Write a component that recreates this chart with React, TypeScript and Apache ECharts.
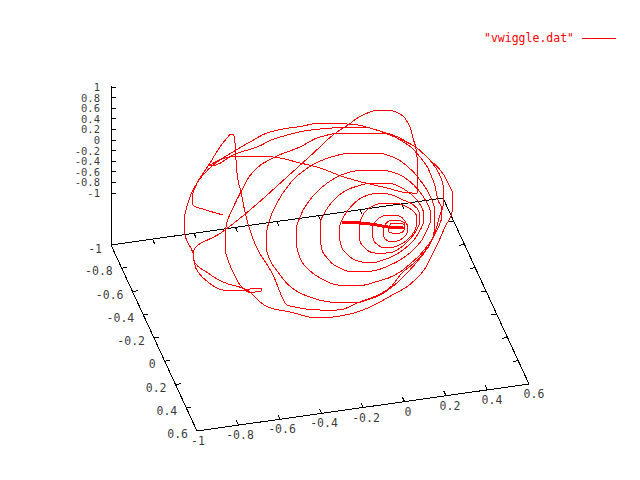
import React, { useEffect, useRef } from "react";
import * as echarts from "echarts";

// Curve, on the projected plot plane (640 x 480 units).
const centreStroke = [[342,221],[360,222],[377,224],[388,226],[403,227],[405,228],[403,229],[388,228],[377,226],[360,224],[342,223],[342,222],[360,223],[377,225],[388,227],[400,228]];
const innerRings = [[405,227],[403,224],[393,223],[389,226],[388,230],[392,233],[400,233],[404,230],[405,225],[393,220],[385,225],[383,233],[385,239],[392,242],[400,240],[406,235],[408,229],[405,221],[399,216],[392,215],[383,216],[376,221],[372,229],[373,238],[378,245],[386,248],[394,247],[403,243],[411,236],[416,227],[417,218],[413,211],[403,205],[394,203],[384,203],[375,205],[367,210],[361,219],[359,230],[360,241],[366,249],[375,253],[386,253],[397,250],[408,241],[416,231],[420,220],[419,212],[412,204],[403,200],[392,195],[380,193],[368,195],[358,200],[349,209],[342,220],[339,232],[341,245],[348,255],[358,261],[370,263],[383,260],[397,254],[410,244],[419,232],[424,218],[421,206],[413,196],[402,188],[387,183],[372,183],[358,186],[345,191],[334,200],[325,212],[320,227],[321,245],[328,259],[340,268],[355,272],[372,271],[388,266],[403,258],[417,246],[427,230],[431,216],[428,205],[420,192],[408,180],[395,173],[380,170],[365,170],[350,172],[335,178],[320,189],[309,201],[300,217],[296,235],[299,255],[308,269],[322,279],[338,285],[356,286],[375,282],[395,275],[411,263],[424,250],[434,232],[435,215],[431,198],[420,180],[407,166],[390,156],[372,153],[352,153],[335,156],[318,162],[302,172],[288,186],[277,203],[269,222],[266,240],[269,258],[278,272],[292,288],[310,297],[330,302],[350,303],[370,299],[388,290],[405,275],[421,257],[432,240],[440,215],[444,200]];
const secondArc = [[443,185],[437,170],[427,157],[407,142],[383,132],[357,127],[320,129],[277,138],[257,147],[233,155],[216,165],[209,166],[209,166]];
const crossStroke = [[230,157],[250,156],[273,157],[300,163],[320,168],[347,178],[387,188],[412,193],[417,193],[417,193]];
const bump = [[417,157],[413,138],[408,123],[398,113],[383,110],[363,115],[348,125],[333,135],[320,147],[287,177],[250,210],[225,230],[193,255],[193,255]];
const outerBottom = [[195,263],[208,273],[223,282],[247,290],[258,300],[268,307],[290,312],[320,318],[340,316],[363,310],[387,298],[417,278],[433,253],[445,227],[452,212],[453,197],[448,183],[441,171],[430,160],[417,148],[397,138],[370,128],[347,124],[320,123],[303,126],[270,132],[250,142],[233,152],[217,162],[203,175],[193,190],[188,203],[184,223],[185,235],[193,253],[194,260],[198,272],[212,285],[223,290],[243,291],[250,289],[258,288],[262,289],[261,291],[255,292],[248,292],[245,290]];
const returnArc = [[238,282],[228,260],[225,243],[226,227],[233,208],[242,190],[253,172],[273,158],[300,147],[320,137],[350,133],[380,133],[400,140],[420,157],[433,180],[438,200],[442,210],[437,230],[420,257],[402,273],[387,290],[357,303],[337,310],[320,310],[290,306],[285,303],[272,273],[258,250],[250,230],[245,212],[241,192],[238,180],[236,160],[235,143],[233,134],[232,134],[227,138],[218,150],[210,163],[200,178],[197,183],[192,200],[193,205],[203,209],[223,215]];
const curve = [...centreStroke, ...innerRings, ...secondArc, ...crossStroke, ...bump, ...outerBottom, ...returnArc];

const xTickValues = [-1, -0.8, -0.6, -0.4, -0.2, 0, 0.2, 0.4, 0.6];
const yTickValues = [-1, -0.8, -0.6, -0.4, -0.2, 0, 0.2, 0.4, 0.6];
const zTickValues = [1, 0.8, 0.6, 0.4, 0.2, 0, -0.2, -0.4, -0.6, -0.8, -1];
const seriesName = '"vwiggle.dat"';

// Projection of the ground plane and the vertical axis on the page.
const project = (x: number, y: number) => {
  const u = (x + 1) / 1.6;
  const v = (y + 1) / 1.6;
  return [111 + 332 * u + 86 * v, 245 - 47 * u + 186 * v];
};
const zPos = (z: number) => 193 - ((z + 1) / 2) * 106;

const gap = ["-", "-"];
const frame = [project(-1, -1), project(0.6, -1), project(0.6, 0.6), project(-1, 0.6), project(-1, -1), [111, 86]];
const ticks: any[] = [];
xTickValues.slice(1, -1).forEach((x) => {
  ticks.push(project(x, 0.6), project(x, 0.56), gap, project(x, -1), project(x, -0.96), gap);
});
yTickValues.slice(1, -1).forEach((y) => {
  ticks.push(project(-1, y), project(-0.975, y), gap, project(0.6, y), project(0.575, y), gap);
});
zTickValues.forEach((z) => {
  ticks.push([111, zPos(z)], [116, zPos(z)], gap);
});

const labelFont = { fontFamily: "DejaVu Sans Mono", fontSize: 11.5 };

const labelSeries = (data: any[], align: string, extra: object = {}) => ({
  type: "scatter",
  symbolSize: 0,
  silent: true,
  data,
  label: {
    show: true,
    position: "inside",
    align,
    verticalAlign: "middle",
    ...labelFont,
    color: "#000",
    formatter: (p: any) => p.data.text,
    ...extra,
  },
});

const xLabels = xTickValues.map((x) => {
  const [px, py] = project(x, 0.6);
  return { value: [px + 1 + (4 * (x + 1)) / 1.6, py + 10], text: String(x) };
});
const yLabels = yTickValues.slice(1).map((y) => {
  const [px, py] = project(-1, y);
  return { value: [px - 9, py + 3], text: String(y) };
});
const zLabels = zTickValues.map((z) => ({ value: [100, zPos(z)], text: String(z) }));
const cornerLabel = [{ value: [102, 249], text: String(yTickValues[0]) }];

export default function App() {
  const ref = useRef<HTMLDivElement>(null);
  useEffect(() => {
    document.body.style.margin = "0";
    const chart = echarts.init(ref.current!, undefined, { renderer: "svg" });
    chart.setOption({
      animation: false,
      backgroundColor: "#fff",
      grid: { left: 0, top: 0, width: 640, height: 480 },
      xAxis: { type: "value", min: 0, max: 640, show: false },
      yAxis: { type: "value", min: 0, max: 480, inverse: true, show: false },
      legend: {
        data: [{ name: seriesName, icon: "rect" }],
        left: 484,
        top: 32,
        align: "right",
        itemWidth: 34,
        itemHeight: 1,
        padding: 0,
        textStyle: { ...labelFont, color: "#f00", padding: [0, 3, 0, 0] },
      },
      series: [
        { type: "line", data: frame, symbol: "none", silent: true, lineStyle: { color: "#000", width: 1 } },
        { type: "line", data: ticks, symbol: "none", silent: true, connectNulls: false, lineStyle: { color: "#000", width: 1 } },
        {
          name: seriesName,
          type: "line",
          data: curve,
          symbol: "none",
          smooth: 0.5,
          silent: true,
          itemStyle: { color: "#f00" },
          lineStyle: { color: "#f00", width: 1 },
        },
        labelSeries(xLabels, "center"),
        labelSeries(yLabels, "right"),
        labelSeries(zLabels, "right", { fontSize: 10.5, lineHeight: 10 }),
        labelSeries(cornerLabel, "right"),
      ],
    });
    return () => chart.dispose();
  }, []);
  return (
    <>
      <style>{`svg path { shape-rendering: crispEdges; }`}</style>
      <div ref={ref} style={{ width: 640, height: 480 }} />
    </>
  );
}
